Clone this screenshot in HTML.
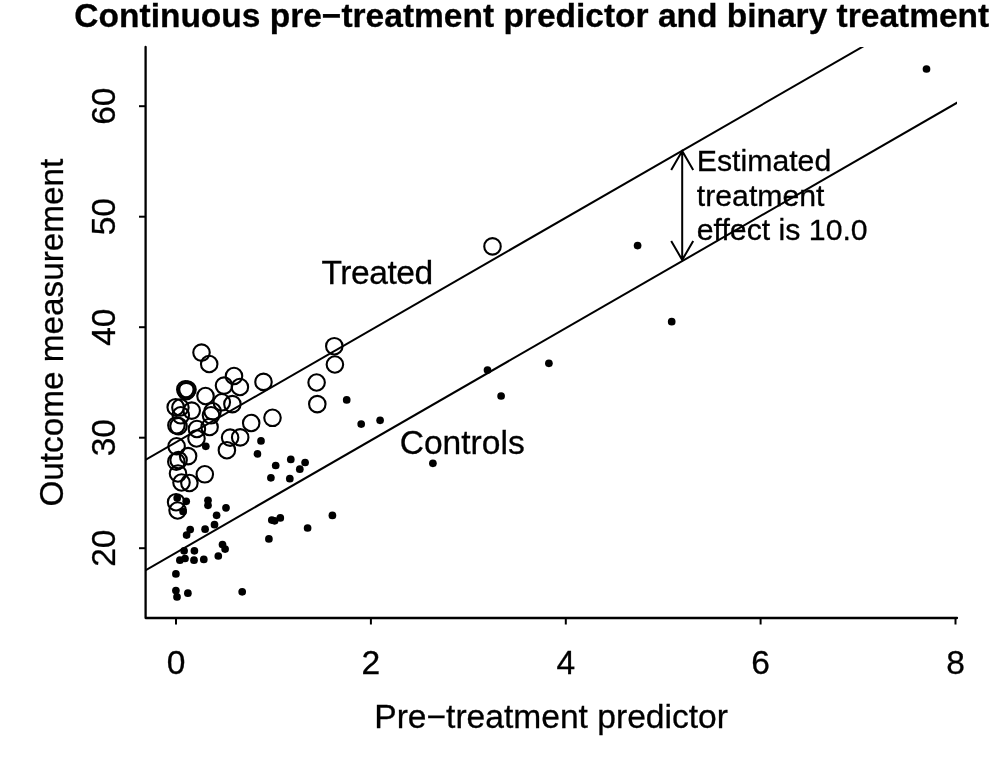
<!DOCTYPE html>
<html><head><meta charset="utf-8"><style>
html,body{margin:0;padding:0;background:#fff;}
svg{display:block;will-change:transform;}
text{font-family:"Liberation Sans", sans-serif;fill:#000;stroke:#000;stroke-width:0.3px;}
</style></head><body>
<svg width="1007" height="762" viewBox="0 0 1007 762">
<path d="M145.6 47 V618 H957" fill="none" stroke="#000" stroke-width="2.3" stroke-linecap="round" stroke-linejoin="round"/>
<line x1="176.0" y1="618" x2="176.0" y2="624.5" stroke="#000" stroke-width="2"/>
<text x="176.0" y="674.2" text-anchor="middle" font-size="33.6">0</text>
<line x1="370.9" y1="618" x2="370.9" y2="624.5" stroke="#000" stroke-width="2"/>
<text x="370.9" y="674.2" text-anchor="middle" font-size="33.6">2</text>
<line x1="565.8" y1="618" x2="565.8" y2="624.5" stroke="#000" stroke-width="2"/>
<text x="565.8" y="674.2" text-anchor="middle" font-size="33.6">4</text>
<line x1="760.6" y1="618" x2="760.6" y2="624.5" stroke="#000" stroke-width="2"/>
<text x="760.6" y="674.2" text-anchor="middle" font-size="33.6">6</text>
<line x1="955.5" y1="618" x2="955.5" y2="624.5" stroke="#000" stroke-width="2"/>
<text x="955.5" y="674.2" text-anchor="middle" font-size="33.6">8</text>
<line x1="139" y1="548.2" x2="145.6" y2="548.2" stroke="#000" stroke-width="2"/>
<text transform="translate(115,548.2) rotate(-90)" x="0" y="0" text-anchor="middle" font-size="33.6">20</text>
<line x1="139" y1="437.7" x2="145.6" y2="437.7" stroke="#000" stroke-width="2"/>
<text transform="translate(115,437.7) rotate(-90)" x="0" y="0" text-anchor="middle" font-size="33.6">30</text>
<line x1="139" y1="327.2" x2="145.6" y2="327.2" stroke="#000" stroke-width="2"/>
<text transform="translate(115,327.2) rotate(-90)" x="0" y="0" text-anchor="middle" font-size="33.6">40</text>
<line x1="139" y1="216.7" x2="145.6" y2="216.7" stroke="#000" stroke-width="2"/>
<text transform="translate(115,216.7) rotate(-90)" x="0" y="0" text-anchor="middle" font-size="33.6">50</text>
<line x1="139" y1="106.2" x2="145.6" y2="106.2" stroke="#000" stroke-width="2"/>
<text transform="translate(115,106.2) rotate(-90)" x="0" y="0" text-anchor="middle" font-size="33.6">60</text>
<defs><clipPath id="pr"><rect x="145.6" y="47" width="811.4" height="571"/></clipPath></defs>
<line x1="127.28" y1="580.75" x2="984.75" y2="86.77" stroke="#000" stroke-width="2" clip-path="url(#pr)"/>
<line x1="127.28" y1="470.35" x2="984.75" y2="-23.63" stroke="#000" stroke-width="2" clip-path="url(#pr)"/>
<path d="M682.2 151.0 V259.9 M671.2 169.9 L682.2 151.0 L693.2 169.9 M671.2 240.99999999999997 L682.2 259.9 L693.2 240.99999999999997" fill="none" stroke="#000" stroke-width="2"/>
<text x="531.8" y="27.2" text-anchor="middle" font-size="33.5" font-weight="bold">Continuous pre−treatment predictor and binary treatment</text>
<text x="551.1" y="727.8" text-anchor="middle" font-size="33.6">Pre−treatment predictor</text>
<text transform="translate(62.5,332.6) rotate(-90)" text-anchor="middle" font-size="33.3">Outcome measurement</text>
<text x="321.4" y="284.1" font-size="33.6" letter-spacing="-0.45">Treated</text>
<text x="399.7" y="454.1" font-size="33.6">Controls</text>
<text x="696.8" y="170.5" font-size="30.24">Estimated</text>
<text x="696.8" y="205.5" font-size="30.24">treatment</text>
<text x="696.8" y="239.8" font-size="30.24">effect is 10.0</text>
<circle cx="492.5" cy="246.4" r="8.25" fill="none" stroke="#000" stroke-width="2.1"/>
<circle cx="201.5" cy="352.6" r="8.25" fill="none" stroke="#000" stroke-width="2.1"/>
<circle cx="209.2" cy="364.0" r="8.25" fill="none" stroke="#000" stroke-width="2.1"/>
<circle cx="185.3" cy="389.4" r="8.25" fill="none" stroke="#000" stroke-width="2.1"/>
<circle cx="187.5" cy="389.6" r="8.25" fill="none" stroke="#000" stroke-width="2.1"/>
<circle cx="186.3" cy="391.1" r="8.25" fill="none" stroke="#000" stroke-width="2.1"/>
<circle cx="205.5" cy="396.0" r="8.25" fill="none" stroke="#000" stroke-width="2.1"/>
<circle cx="224.0" cy="385.6" r="8.25" fill="none" stroke="#000" stroke-width="2.1"/>
<circle cx="234.0" cy="376.0" r="8.25" fill="none" stroke="#000" stroke-width="2.1"/>
<circle cx="239.9" cy="387.0" r="8.25" fill="none" stroke="#000" stroke-width="2.1"/>
<circle cx="263.5" cy="381.9" r="8.25" fill="none" stroke="#000" stroke-width="2.1"/>
<circle cx="221.8" cy="402.3" r="8.25" fill="none" stroke="#000" stroke-width="2.1"/>
<circle cx="232.4" cy="404.1" r="8.25" fill="none" stroke="#000" stroke-width="2.1"/>
<circle cx="175.7" cy="407.2" r="8.25" fill="none" stroke="#000" stroke-width="2.1"/>
<circle cx="180.4" cy="407.5" r="8.25" fill="none" stroke="#000" stroke-width="2.1"/>
<circle cx="180.8" cy="415.3" r="8.25" fill="none" stroke="#000" stroke-width="2.1"/>
<circle cx="191.7" cy="410.6" r="8.25" fill="none" stroke="#000" stroke-width="2.1"/>
<circle cx="212.6" cy="411.3" r="8.25" fill="none" stroke="#000" stroke-width="2.1"/>
<circle cx="211.0" cy="415.3" r="8.25" fill="none" stroke="#000" stroke-width="2.1"/>
<circle cx="209.6" cy="427.0" r="8.25" fill="none" stroke="#000" stroke-width="2.1"/>
<circle cx="176.4" cy="425.3" r="8.25" fill="none" stroke="#000" stroke-width="2.1"/>
<circle cx="178.5" cy="426.1" r="8.25" fill="none" stroke="#000" stroke-width="2.1"/>
<circle cx="196.9" cy="429.0" r="8.25" fill="none" stroke="#000" stroke-width="2.1"/>
<circle cx="196.5" cy="438.5" r="8.25" fill="none" stroke="#000" stroke-width="2.1"/>
<circle cx="176.6" cy="446.3" r="8.25" fill="none" stroke="#000" stroke-width="2.1"/>
<circle cx="188.1" cy="456.1" r="8.25" fill="none" stroke="#000" stroke-width="2.1"/>
<circle cx="176.3" cy="461.7" r="8.25" fill="none" stroke="#000" stroke-width="2.1"/>
<circle cx="178.6" cy="460.1" r="8.25" fill="none" stroke="#000" stroke-width="2.1"/>
<circle cx="178.0" cy="473.5" r="8.25" fill="none" stroke="#000" stroke-width="2.1"/>
<circle cx="181.5" cy="482.5" r="8.25" fill="none" stroke="#000" stroke-width="2.1"/>
<circle cx="189.4" cy="483.0" r="8.25" fill="none" stroke="#000" stroke-width="2.1"/>
<circle cx="204.8" cy="474.3" r="8.25" fill="none" stroke="#000" stroke-width="2.1"/>
<circle cx="176.1" cy="502.2" r="8.25" fill="none" stroke="#000" stroke-width="2.1"/>
<circle cx="177.6" cy="510.5" r="8.25" fill="none" stroke="#000" stroke-width="2.1"/>
<circle cx="251.2" cy="423.0" r="8.25" fill="none" stroke="#000" stroke-width="2.1"/>
<circle cx="230.1" cy="437.6" r="8.25" fill="none" stroke="#000" stroke-width="2.1"/>
<circle cx="240.2" cy="437.4" r="8.25" fill="none" stroke="#000" stroke-width="2.1"/>
<circle cx="226.9" cy="450.2" r="8.25" fill="none" stroke="#000" stroke-width="2.1"/>
<circle cx="316.6" cy="382.5" r="8.25" fill="none" stroke="#000" stroke-width="2.1"/>
<circle cx="317.3" cy="404.1" r="8.25" fill="none" stroke="#000" stroke-width="2.1"/>
<circle cx="272.5" cy="417.8" r="8.25" fill="none" stroke="#000" stroke-width="2.1"/>
<circle cx="334.3" cy="346.2" r="8.25" fill="none" stroke="#000" stroke-width="2.1"/>
<circle cx="334.9" cy="364.5" r="8.25" fill="none" stroke="#000" stroke-width="2.1"/>
<circle cx="926.5" cy="69.0" r="3.85" fill="#000"/>
<circle cx="637.6" cy="245.6" r="3.85" fill="#000"/>
<circle cx="671.7" cy="321.7" r="3.85" fill="#000"/>
<circle cx="487.5" cy="370.1" r="3.85" fill="#000"/>
<circle cx="548.9" cy="363.3" r="3.85" fill="#000"/>
<circle cx="501.1" cy="396.0" r="3.85" fill="#000"/>
<circle cx="380.1" cy="420.3" r="3.85" fill="#000"/>
<circle cx="432.9" cy="463.3" r="3.85" fill="#000"/>
<circle cx="346.7" cy="399.9" r="3.85" fill="#000"/>
<circle cx="361.2" cy="424.1" r="3.85" fill="#000"/>
<circle cx="261.0" cy="440.9" r="3.85" fill="#000"/>
<circle cx="257.4" cy="453.9" r="3.85" fill="#000"/>
<circle cx="290.8" cy="459.4" r="3.85" fill="#000"/>
<circle cx="305.1" cy="462.5" r="3.85" fill="#000"/>
<circle cx="275.7" cy="465.5" r="3.85" fill="#000"/>
<circle cx="299.8" cy="469.2" r="3.85" fill="#000"/>
<circle cx="270.9" cy="477.8" r="3.85" fill="#000"/>
<circle cx="289.8" cy="478.7" r="3.85" fill="#000"/>
<circle cx="271.8" cy="520.1" r="3.85" fill="#000"/>
<circle cx="274.6" cy="520.8" r="3.85" fill="#000"/>
<circle cx="280.3" cy="517.9" r="3.85" fill="#000"/>
<circle cx="332.4" cy="515.4" r="3.85" fill="#000"/>
<circle cx="307.6" cy="528.0" r="3.85" fill="#000"/>
<circle cx="268.9" cy="538.9" r="3.85" fill="#000"/>
<circle cx="177.2" cy="498.1" r="3.85" fill="#000"/>
<circle cx="186.2" cy="501.3" r="3.85" fill="#000"/>
<circle cx="208.0" cy="500.3" r="3.85" fill="#000"/>
<circle cx="208.0" cy="505.3" r="3.85" fill="#000"/>
<circle cx="183.1" cy="511.5" r="3.85" fill="#000"/>
<circle cx="226.0" cy="507.8" r="3.85" fill="#000"/>
<circle cx="216.6" cy="515.3" r="3.85" fill="#000"/>
<circle cx="214.5" cy="524.7" r="3.85" fill="#000"/>
<circle cx="190.2" cy="529.6" r="3.85" fill="#000"/>
<circle cx="186.6" cy="535.1" r="3.85" fill="#000"/>
<circle cx="205.1" cy="529.2" r="3.85" fill="#000"/>
<circle cx="222.5" cy="544.5" r="3.85" fill="#000"/>
<circle cx="225.1" cy="549.1" r="3.85" fill="#000"/>
<circle cx="184.1" cy="550.8" r="3.85" fill="#000"/>
<circle cx="194.4" cy="550.8" r="3.85" fill="#000"/>
<circle cx="218.3" cy="556.0" r="3.85" fill="#000"/>
<circle cx="179.9" cy="560.2" r="3.85" fill="#000"/>
<circle cx="185.0" cy="558.5" r="3.85" fill="#000"/>
<circle cx="194.0" cy="560.2" r="3.85" fill="#000"/>
<circle cx="203.8" cy="559.4" r="3.85" fill="#000"/>
<circle cx="175.9" cy="573.9" r="3.85" fill="#000"/>
<circle cx="175.9" cy="590.6" r="3.85" fill="#000"/>
<circle cx="177.0" cy="596.9" r="3.85" fill="#000"/>
<circle cx="187.9" cy="593.2" r="3.85" fill="#000"/>
<circle cx="242.2" cy="591.8" r="3.85" fill="#000"/>
<circle cx="205.8" cy="446.3" r="3.85" fill="#000"/>
</svg></body></html>
